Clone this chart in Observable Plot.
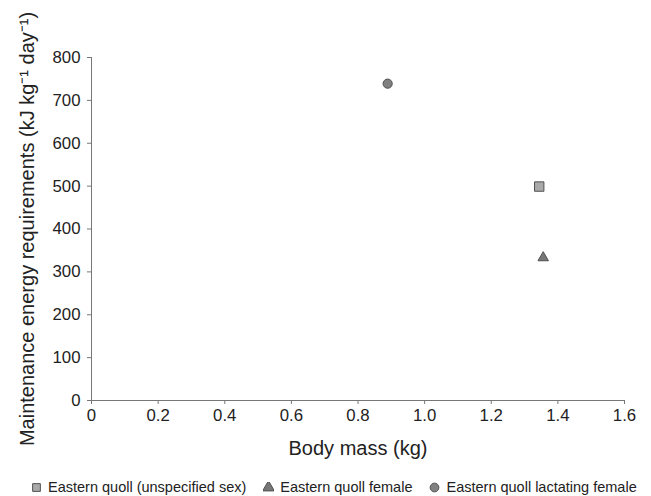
<!DOCTYPE html>
<html>
<head>
<meta charset="utf-8">
<script src="https://cdn.jsdelivr.net/npm/d3@7"></script>
<script src="https://cdn.jsdelivr.net/npm/@observablehq/plot@0.6"></script>
<style>
  body { margin: 0; background: #fff; font-family: "Liberation Sans", Arial, sans-serif; }
  #chart svg text { font-size: 16.8px !important; }
  #chart svg text.axis-title { font-size: 20px !important; }
  #legend { display: flex; align-items: center; font-size: 14.5px; color: #222; padding-left: 31px; margin-top: 8px; height: 26px; white-space: nowrap; }
  #legend span.item { display: inline-flex; align-items: center; margin-right: 17px; }
  #legend svg { margin-right: 6px; }
</style>
</head>
<body>
<div id="chart"></div>
<div id="legend"></div>
<script>
const groups = ["Eastern quoll (unspecified sex)", "Eastern quoll female", "Eastern quoll lactating female"];
const bodyMass = [1.344, 1.356, 0.889];
const energy = [499, 333, 739];
const symbols = ["square", "triangle", "circle"];
const fills = ["#a9a9a9", "#777777", "#808080"];
const sizes = [5.3, 3.9, 4.6];
const xTicks = [0, 0.2, 0.4, 0.6, 0.8, 1.0, 1.2, 1.4, 1.6];
const yTicks = [0, 100, 200, 300, 400, 500, 600, 700, 800];
const xLabel = "Body mass (kg)";
const yLabel = "Maintenance energy requirements (kJ kg\u207B\u00B9 day\u207B\u00B9)";

const data = groups.map((g, i) => ({group: g, x: bodyMass[i], y: energy[i], symbol: symbols[i], fill: fills[i], r: sizes[i]}));

const chart = Plot.plot({
  width: 651,
  height: 466,
  marginLeft: 91,
  marginRight: 27,
  marginTop: 57,
  marginBottom: 66,
  style: {fontFamily: "'Liberation Sans', Arial, sans-serif", color: "#222", background: "#fff"},
  x: {domain: [0, 1.6]},
  y: {domain: [0, 800]},
  r: {type: "identity"},
  symbol: {domain: symbols, range: symbols},
  marks: [
    Plot.axisX({ticks: xTicks, tickSize: 4, tickPadding: 5, stroke: "#777", fill: "#222",
      tickFormat: d => d === 0 ? "0" : d.toFixed(1),
      label: xLabel, labelAnchor: "center", labelArrow: "none", labelOffset: 54}),
    Plot.axisY({ticks: yTicks, tickSize: 4, tickPadding: 7, stroke: "#777", fill: "#222",
      label: yLabel, labelAnchor: "center", labelArrow: "none", labelOffset: 72}),
    Plot.ruleY([0], {stroke: "#777"}),
    Plot.ruleX([0], {stroke: "#777"}),
    Plot.dot(data, {x: "x", y: "y", symbol: "symbol", fill: d => d.fill, stroke: "#505050", strokeWidth: 1, r: "r"})
  ]
});
chart.querySelectorAll("text").forEach(t => {
  if (t.textContent === xLabel || t.textContent === yLabel) t.classList.add("axis-title");
});
document.getElementById("chart").append(chart);

const legend = document.getElementById("legend");
groups.forEach((g, i) => {
  const item = document.createElement("span");
  item.className = "item";
  const sym = d3.symbol(symbols[i] === "square" ? d3.symbolSquare : symbols[i] === "triangle" ? d3.symbolTriangle : d3.symbolCircle, 60)();
  item.innerHTML = `<svg width="11" height="11" viewBox="-5.5 -5.5 11 11"><path d="${sym}" fill="${fills[i]}" stroke="#505050" stroke-width="1"></path></svg>${g}`;
  legend.append(item);
});
</script>
</body>
</html>
